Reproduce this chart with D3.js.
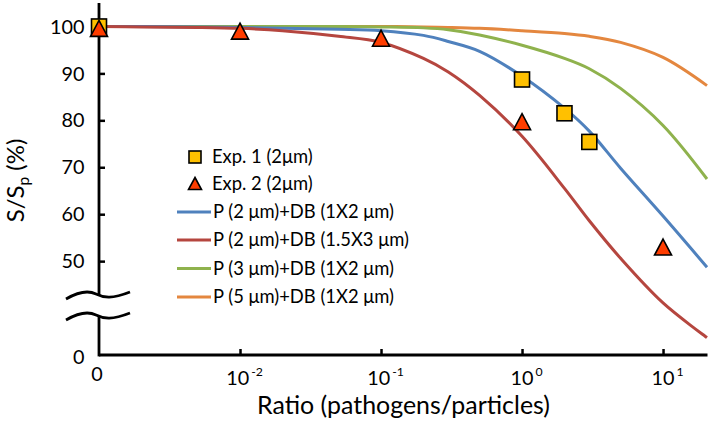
<!DOCTYPE html>
<html><head><meta charset="utf-8">
<script src="https://cdn.jsdelivr.net/npm/d3@7"></script>
<style>
html,body{margin:0;padding:0;background:#fff;}
text{font-family:Lato,"Open Sans",sans-serif;fill:#000;}
</style></head>
<body><svg id="c" width="710" height="422"></svg>
<script>
// ---- data ----
const curveX = [0.001, 0.002, 0.005, 0.01, 0.02, 0.05, 0.1, 0.2, 0.3, 0.5, 1, 2, 3, 5, 10, 20.5];
const blueP2DB12   = [100, 100, 99.9, 99.8, 99.6, 99.4, 99.1, 98.1, 96.8, 94.7, 89.4, 82.6, 77.7, 69.8, 59.6, 48.7];
const redP2DB153   = [100, 99.9, 99.8, 99.6, 99.1, 97.9, 96.6, 93.2, 90.3, 85.3, 76.6, 65.5, 58.6, 50.6, 41.1, 33.7];
const greenP3DB12  = [100, 100, 100, 100, 100, 100, 99.9, 99.7, 99.3, 98.2, 96.0, 93.2, 91.0, 86.8, 78.9, 67.5];
const orangeP5DB12 = [100, 100, 100, 100, 100, 100, 100, 99.9, 99.8, 99.6, 99.1, 98.5, 97.9, 96.6, 93.4, 87.4];
const exp1X = [0.001, 1, 2, 3];
const exp1Y = [100, 88.7, 81.5, 75.4];
const exp2X = [0.001, 0.01, 0.1, 1, 10];
const exp2Y = [99.6, 99.0, 97.5, 79.7, 53.0];
const xTickVals = [0.001, 0.01, 0.1, 1, 10];
const xTickBase = ["0", "10", "10", "10", "10"];
const xTickExp  = ["", "-2", "-1", "0", "1"];
const yTickVals = [30, 50, 60, 70, 80, 90, 100];
const yTickLabels = ["0", "50", "60", "70", "80", "90", "100"];
const seriesNames = ["P (2 μm)+DB (1X2 μm)", "P (2 μm)+DB (1.5X3 μm)", "P (3 μm)+DB (1X2 μm)", "P (5 μm)+DB (1X2 μm)"];
const expNames = ["Exp. 1 (2μm)", "Exp. 2 (2μm)"];

// ---- styles ----
const lineColors = ["#4F81BD", "#B5463F", "#8FB24D", "#E4873F"];
const sqFill = "#FFC000", triFill = "#FF3D00";

const svg = d3.select("#c");
const x = d3.scaleLog().domain([0.001, 20.5]).range([99, 707]);
const y = d3.scaleLinear().domain([30, 105]).range([355, 3]);

function fit(sel, target) {
  const w = sel.node().getComputedTextLength();
  const fs = parseFloat(sel.attr("font-size"));
  return fs * target / w;
}

// curves
const series = [blueP2DB12, redP2DB153, greenP3DB12, orangeP5DB12];
const line = d3.line().x(d => x(d[0])).y(d => y(d[1])).curve(d3.curveCatmullRom.alpha(0.5));
[3, 2, 0, 1].forEach(i => {
  svg.append("path")
    .attr("d", line(curveX.map((v, k) => [v, series[i][k]])))
    .attr("fill", "none").attr("stroke", lineColors[i]).attr("stroke-width", 3);
});

// axes
const xAxis = d3.axisBottom(x).tickValues(xTickVals).tickSizeInner(-6).tickSizeOuter(0).tickFormat("");
const gx = svg.append("g").attr("transform", "translate(0,355)").call(xAxis);
gx.select(".domain").remove();
gx.selectAll(".tick line").attr("stroke", "#000").attr("stroke-width", 2.5);
gx.selectAll(".tick").filter(d => d === 0.001).select("line").remove();

const yAxis = d3.axisLeft(y).tickValues(yTickVals.filter(v => v !== 30)).tickSizeInner(-6).tickSizeOuter(0).tickFormat("");
const gy = svg.append("g").attr("transform", "translate(99,0)").call(yAxis);
gy.select(".domain").remove();
gy.selectAll(".tick line").attr("stroke", "#000").attr("stroke-width", 2.5);

const axisStroke = {stroke: "#000", "stroke-width": 2.8, fill: "none"};
function applyS(sel, o) { Object.entries(o).forEach(([k, v]) => sel.attr(k, v)); return sel; }
applyS(svg.append("line").attr("x1", 99).attr("x2", 707.5).attr("y1", 355).attr("y2", 355), axisStroke);
applyS(svg.append("line").attr("x1", 99).attr("x2", 99).attr("y1", 3).attr("y2", 296), axisStroke);
applyS(svg.append("line").attr("x1", 99).attr("x2", 99).attr("y1", 317).attr("y2", 356.4), axisStroke);
[0, 21].forEach(off => {
  applyS(svg.append("path").attr("d",
    `M66,${299 + off} C78,${292 + off} 88,${290 + off} 96,${294 + off} C104,${298 + off} 112,${299 + off} 130,${292 + off}`), axisStroke);
});

// tick labels
const probe = svg.append("text").attr("font-size", 20).text("100");
const tickFs = fit(probe, 34.5);
probe.remove();

svg.append("g").selectAll("text").data(yTickVals).join("text")
  .attr("x", 84.5).attr("y", d => y(d) + (d === 30 ? 1.5 : 0)).attr("dy", "0.36em")
  .attr("text-anchor", "end").attr("font-size", tickFs)
  .text((d, i) => yTickLabels[i]);

const xl = svg.append("g").selectAll("text").data(xTickVals).join("text")
  .attr("x", (d, i) => x(d) + (i === 0 ? -2 : 4.5)).attr("y", (d, i) => i === 0 ? 381 : 384.5)
  .attr("text-anchor", "middle").attr("font-size", tickFs);
xl.append("tspan").text((d, i) => xTickBase[i]);
xl.append("tspan").attr("dx", 2).attr("dy", -9).attr("font-size", tickFs * 0.62).text((d, i) => xTickExp[i]);

// axis titles
const xt = svg.append("text").attr("x", 403.5).attr("y", 413.5).attr("text-anchor", "middle").attr("font-size", 21)
  .text("Ratio (pathogens/particles)");
xt.attr("font-size", fit(xt, 293));
const yt = svg.append("text").attr("transform", "translate(24,180.5) rotate(-90)")
  .attr("text-anchor", "middle").attr("font-size", 21);
yt.append("tspan").text("S/S");
const ysub = yt.append("tspan").attr("dy", 5).attr("font-size", 14).text("p");
yt.append("tspan").attr("dy", -5).text(" (%)");
const ytFs = fit(yt, 84);
yt.attr("font-size", ytFs);
ysub.attr("font-size", ytFs * 0.65);

// markers
function tri(w, h) { return `M0,${-h / 2}L${w / 2},${h / 2}L${-w / 2},${h / 2}Z`; }
svg.append("g").selectAll("rect").data(exp1X).join("rect")
  .attr("x", d => x(d) - 7.5).attr("y", (d, i) => y(exp1Y[i]) - 7.5)
  .attr("width", 15).attr("height", 15)
  .attr("fill", sqFill).attr("stroke", "#000").attr("stroke-width", 1.6);
svg.append("g").selectAll("path").data(exp2X).join("path")
  .attr("transform", (d, i) => `translate(${x(d)},${y(exp2Y[i])})`)
  .attr("d", tri(17, 16))
  .attr("fill", triFill).attr("stroke", "#000").attr("stroke-width", 1.6);

// legend
const lg = svg.append("g");
const rowY = [157, 183.5, 212, 240, 268.5, 297];
lg.append("rect").attr("x", 189).attr("y", rowY[0] - 6).attr("width", 12).attr("height", 12)
  .attr("fill", sqFill).attr("stroke", "#000").attr("stroke-width", 1.6);
lg.append("path").attr("transform", `translate(195,${rowY[1]})`).attr("d", tri(13, 12))
  .attr("fill", triFill).attr("stroke", "#000").attr("stroke-width", 1.6);
[0, 1, 2, 3].forEach(i => {
  lg.append("line").attr("x1", 177).attr("x2", 211).attr("y1", rowY[i + 2]).attr("y2", rowY[i + 2])
    .attr("stroke", lineColors[i]).attr("stroke-width", 3);
});
const labels = expNames.concat(seriesNames);
const lt = lg.selectAll("text").data(labels).join("text")
  .attr("x", (d, i) => i < 2 ? 212 : 213).attr("y", (d, i) => rowY[i]).attr("dy", "0.35em")
  .attr("font-size", 17).text(d => d);
const legFs = fit(lt.filter((d, i) => i === 3), 196);
lt.attr("font-size", legFs);
</script></body></html>
